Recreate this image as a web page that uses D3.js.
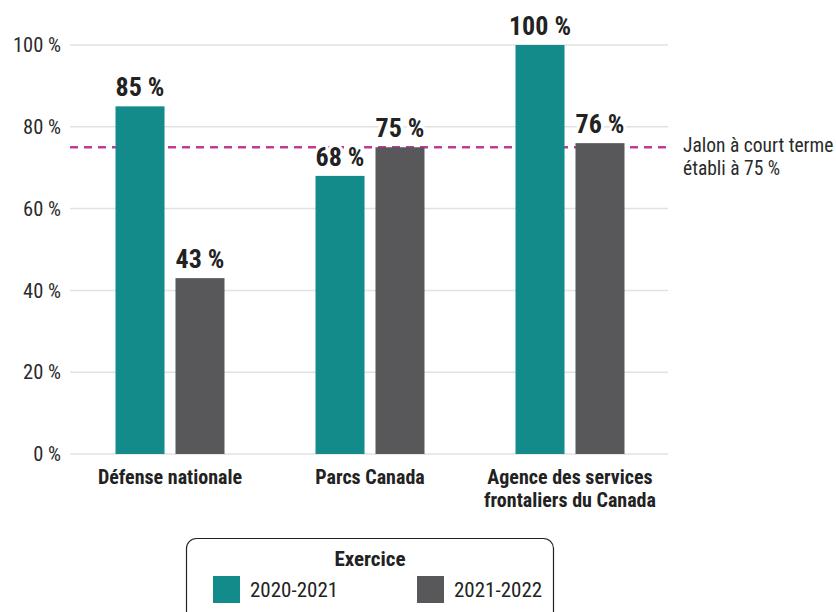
<!DOCTYPE html>
<html><head><meta charset="utf-8">
<script src="https://cdn.jsdelivr.net/npm/d3@7"></script>
<style>
body{margin:0;background:#fff;}
text{font-family:"Roboto Condensed","Liberation Sans Narrow","Roboto",sans-serif;}
</style></head>
<body><svg id="c" width="836" height="612"></svg>
<script>
const categories = [["Défense nationale"], ["Parcs Canada"], ["Agence des services", "frontaliers du Canada"]];
const seriesNames = ["2020-2021", "2021-2022"];
const values2020 = [85, 68, 100];
const values2021 = [43, 75, 76];
const yTicks = [0, 20, 40, 60, 80, 100];
const milestone = 75;
const milestoneLabel = ["Jalon à court terme", "établi à 75 %"];
const legendTitle = "Exercice";
const colors = ["#138b8b", "#58585a"];

const svg = d3.select("#c");
const x = d3.scaleBand().domain(d3.range(categories.length)).range([70, 670]);
const xs = d3.scaleBand().domain([0,1]).range([0, 109]).paddingInner(0.183);
const y = d3.scaleLinear().domain([0, 100]).range([454, 45]);
const gx = (i, s) => x(i) + x.bandwidth()/2 - 54.5 + xs(s);

// gridlines
svg.append("g").selectAll("line").data(yTicks).join("line")
  .attr("x1", 70).attr("x2", 668).attr("y1", d=>y(d)).attr("y2", d=>y(d))
  .attr("stroke", "#e2e2e2").attr("stroke-width", 1.5);
svg.append("g").selectAll("text").data(yTicks).join("text")
  .attr("x", 61).attr("y", d=>y(d)).attr("dy", "0.35em").attr("text-anchor","end")
  .attr("font-size", 20.5).attr("fill", "#2a2a2a").text(d=>d+" %");

// milestone line
svg.append("line").attr("x1", 70).attr("x2", 672).attr("y1", y(milestone)).attr("y2", y(milestone))
  .attr("stroke", "#c03a9e").attr("stroke-width", 2.5).attr("stroke-dasharray", "8,6");
svg.append("text").attr("x", 683).attr("y", 152).attr("font-size", 19.5).attr("fill","#2a2a2a")
  .selectAll("tspan").data(milestoneLabel).join("tspan").attr("x", 683).attr("dy",(d,i)=>i?23:0).text(d=>d);

const series = [values2020, values2021];
series.forEach((vals, s) => {
  svg.append("g").selectAll("rect").data(vals).join("rect")
    .attr("x", (d,i)=> gx(i, s)).attr("width", xs.bandwidth())
    .attr("y", d=>y(d)).attr("height", d=>y(0)-y(d)).attr("fill", colors[s]);
});
series.forEach((vals, s) => {
  svg.append("g").selectAll("text").data(vals).join("text")
    .attr("x", (d,i)=> gx(i, s) + xs.bandwidth()/2)
    .attr("y", d=>y(d)-10).attr("text-anchor","middle").attr("font-size", 26).attr("font-weight","bold")
    .attr("fill","#222").attr("stroke","#fff").attr("stroke-width",6).attr("paint-order","stroke")
    .text(d=>d+" %");
});

// category labels
const cl = svg.append("g").selectAll("text").data(categories).join("text")
  .attr("x", (d,i)=>x(i)+x.bandwidth()/2).attr("y", 484).attr("text-anchor","middle")
  .attr("font-size", 20).attr("font-weight","bold").attr("fill","#222");
cl.selectAll("tspan").data(d=>d).join("tspan").attr("x", function(){return this.parentNode.getAttribute("x");})
  .attr("dy",(d,i)=>i?23:0).text(d=>d);

// legend
const lg = svg.append("g");
lg.append("rect").attr("x",186.5).attr("y",538.5).attr("width",367).attr("height",90).attr("rx",10)
  .attr("fill","#fff").attr("stroke","#222").attr("stroke-width",1.2);
lg.append("text").attr("x",370).attr("y",566).attr("text-anchor","middle").attr("font-size",21)
  .attr("font-weight","bold").attr("fill","#222").text(legendTitle);
const lx = [213, 417];
seriesNames.forEach((n,i)=>{
  lg.append("rect").attr("x",lx[i]).attr("y",576).attr("width",27).attr("height",27).attr("fill",colors[i]);
  lg.append("text").attr("x",lx[i]+37).attr("y",597).attr("font-size",21).attr("fill","#222").text(n);
});
</script></body></html>
